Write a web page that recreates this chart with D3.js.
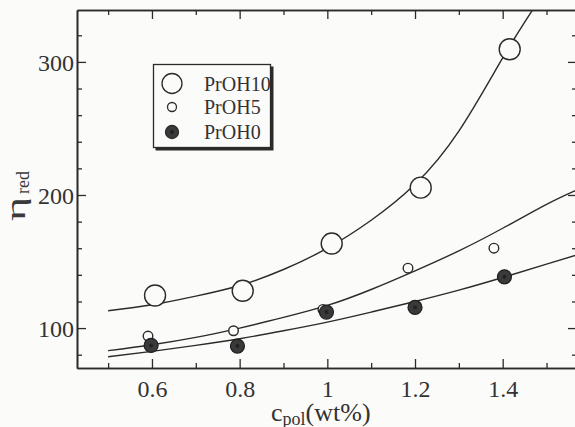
<!DOCTYPE html>
<html><head><meta charset="utf-8">
<script src="https://cdn.jsdelivr.net/npm/d3@7"></script>
<style>html,body{margin:0;padding:0;background:#fbfbf9;}svg{display:block;}</style>
</head><body>
<script>
// ---- data ----
const concentrations = [0.6, 0.8, 1.0, 1.2, 1.4];
const prOH10 = [[0.607, 124.5], [0.807, 128], [1.01, 163.5], [1.213, 205.5], [1.416, 309.5]];
const prOH5  = [[0.591, 94], [0.786, 98], [0.99, 114], [1.184, 145], [1.38, 160]];
const prOH0  = [[0.598, 87], [0.795, 86.5], [0.998, 112], [1.2, 115.5], [1.404, 138.5]];
// fitted curves
const fit10 = [[0.5,113],[0.6,117.5],[0.7,124],[0.8,132],[0.9,144],[1.0,160],[1.1,181],[1.2,208],[1.3,248],[1.4,303],[1.47,340]];
const fit5  = [[0.5,83],[0.6,87.5],[0.7,93],[0.8,100],[0.9,108],[1.0,117],[1.1,129],[1.2,143],[1.3,158],[1.4,175],[1.5,193],[1.57,204]];
const fit0  = [[0.5,78.5],[0.6,82.5],[0.7,87],[0.8,92],[0.9,98],[1.0,104.5],[1.1,112],[1.2,120],[1.3,128.5],[1.4,138],[1.5,148],[1.57,155]];
const xMajorTicks = [0.6, 0.8, 1.0, 1.2, 1.4];
const xMinorTicks = [0.5, 0.7, 0.9, 1.1, 1.3, 1.5];
const yMajorTicks = [100, 200, 300];
const yMinorTicks = [80, 120, 140, 160, 180, 220, 240, 260, 280, 320];
const legendLabels = ["PrOH10", "PrOH5", "PrOH0"];

const W = 575, H = 427;
const L = 77, R = 577, T = 10, B = 368;
const x = d3.scaleLinear().domain([0.429, 1.5695]).range([L, R]);
const y = d3.scaleLinear().domain([70, 339]).range([B, T]);
const ink = "#2b2b2b";
const font = "Times New Roman, Liberation Serif, Times, serif";

const svg = d3.select("body").append("svg").attr("width", W).attr("height", H)
  .style("font-family", font);
svg.append("rect").attr("width", W).attr("height", H).attr("fill", "#fbfbf9");

const defs = svg.append("defs");
defs.append("clipPath").attr("id", "plot").append("rect")
  .attr("x", L).attr("y", T).attr("width", R - L).attr("height", B - T);

// axes (ticks inward) on all four sides
const fmt = d => d === 1 ? "1" : d3.format(".1f")(d);
function addAxis(axisFn, scale, ticks, len, transform, showLabels) {
  const g = svg.append("g").attr("transform", transform)
    .call(axisFn(scale).tickValues(ticks).tickSizeInner(len).tickSizeOuter(0)
      .tickFormat(showLabels ? (axisFn === d3.axisBottom ? fmt : d3.format("d")) : ""));
  g.attr("font-family", null);
  g.select(".domain").attr("stroke", ink).attr("stroke-width", 1.6);
  g.selectAll(".tick line").attr("stroke", ink).attr("stroke-width", 1.3);
  g.selectAll(".tick text").style("font-family", font).attr("font-size", 24).attr("fill", "#333");
  return g;
}
// bottom
const gb = addAxis(d3.axisBottom, x, xMajorTicks, -9, `translate(0,${B})`, true);
gb.selectAll(".tick text").attr("y", 12).attr("dy", "0.71em");
addAxis(d3.axisBottom, x, xMinorTicks, -5, `translate(0,${B})`, false);
// top
addAxis(d3.axisTop, x, xMajorTicks, -9, `translate(0,${T})`, false);
addAxis(d3.axisTop, x, xMinorTicks, -5, `translate(0,${T})`, false);
// left
const gl = addAxis(d3.axisLeft, y, yMajorTicks, -9, `translate(${L},0)`, true);
gl.selectAll(".tick text").attr("x", -3).attr("dy", "0.35em");
addAxis(d3.axisLeft, y, yMinorTicks, -5, `translate(${L},0)`, false);
// right
addAxis(d3.axisRight, y, yMajorTicks, -9, `translate(${R},0)`, false);
addAxis(d3.axisRight, y, yMinorTicks, -5, `translate(${R},0)`, false);

// fitted curves
const line = d3.line().x(d => x(d[0])).y(d => y(d[1])).curve(d3.curveNatural);
const curves = svg.append("g").attr("clip-path", "url(#plot)");
[fit10, fit5, fit0].forEach(f => {
  curves.append("path").attr("d", line(f)).attr("fill", "none")
    .attr("stroke", ink).attr("stroke-width", 1.4);
});

// markers
const marks = svg.append("g");
function drawOpen(data, r) {
  marks.selectAll(null).data(data).enter().append("circle")
    .attr("cx", d => x(d[0])).attr("cy", d => y(d[1])).attr("r", r)
    .attr("fill", "#fbfbf9").attr("stroke", ink).attr("stroke-width", 1.4);
}
function drawFilled(data, r) {
  marks.selectAll(null).data(data).enter().append("circle")
    .attr("cx", d => x(d[0])).attr("cy", d => y(d[1])).attr("r", r)
    .attr("fill", "#3a3a3a").attr("stroke", "#1e1e1e").attr("stroke-width", 1.2);
  marks.selectAll(null).data(data).enter().append("circle")
    .attr("cx", d => x(d[0])).attr("cy", d => y(d[1])).attr("r", 2)
    .attr("fill", "#222");
}
drawOpen(prOH10, 10.5);
drawOpen(prOH5, 4.8);
drawFilled(prOH0, 7);

// legend
const lg = svg.append("g");
lg.append("rect").attr("x", 155.5).attr("y", 66.5).attr("width", 118).attr("height", 84)
  .attr("fill", "#2b2b2b");
lg.append("rect").attr("x", 153.5).attr("y", 64.5).attr("width", 117).attr("height", 83)
  .attr("fill", "#fbfbf9").attr("stroke", ink).attr("stroke-width", 1.3);
const rowsY = [83.5, 107, 132];
const legendStyle = [
  {r: 10, fill: "#fbfbf9"}, {r: 4.5, fill: "#fbfbf9"}, {r: 6.5, fill: "#3a3a3a"}
];
legendLabels.forEach((lab, i) => {
  lg.append("circle").attr("cx", 172).attr("cy", rowsY[i]).attr("r", legendStyle[i].r)
    .attr("fill", legendStyle[i].fill).attr("stroke", ink).attr("stroke-width", 1.3);
  if (i === 2) lg.append("circle").attr("cx", 172).attr("cy", rowsY[i]).attr("r", 2).attr("fill", "#222");
  lg.append("text").attr("x", 204).attr("y", rowsY[i] + 7).text(lab)
    .style("font-family", font).attr("font-size", 20).attr("fill", "#333");
});

// axis titles
const xt = svg.append("text").attr("x", 271).attr("y", 421)
  .style("font-family", font).attr("font-size", 26).attr("fill", "#333");
xt.append("tspan").text("c");
xt.append("tspan").text("pol").attr("font-size", 18).attr("dy", 4);
xt.append("tspan").text("(wt%)").attr("dy", -4);

const yt = svg.append("text").attr("transform", "translate(25,221) rotate(-90)")
  .style("font-family", font).attr("font-size", 28).attr("fill", "#3a3a3a");
yt.append("tspan").text("η").attr("textLength", 24).attr("lengthAdjust", "spacingAndGlyphs");
yt.append("tspan").text("red").attr("font-size", 18).attr("dy", 4).attr("dx", 3);
</script>
</body></html>
